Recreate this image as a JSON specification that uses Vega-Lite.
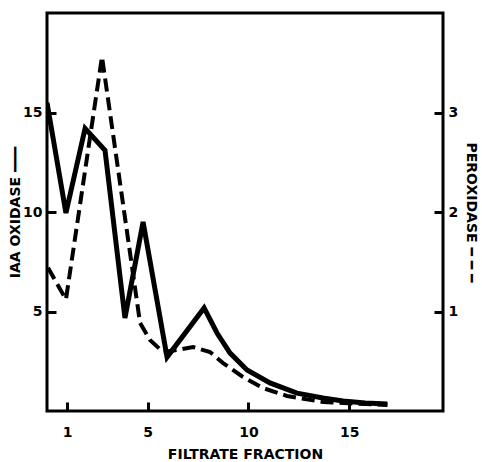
{
  "$schema": "https://vega.github.io/schema/vega-lite/v6.json",
  "width": 396,
  "height": 398,
  "autosize": "none",
  "padding": {"left": 47, "top": 13, "right": 39, "bottom": 51},
  "background": "white",
  "config": {
    "view": {"stroke": "black", "strokeWidth": 3},
    "font": "DejaVu Sans",
    "axis": {"domain": false, "grid": false, "tickColor": "black", "tickWidth": 3, "labelColor": "black", "titleColor": "black", "labelFont": "DejaVu Sans", "titleFont": "DejaVu Sans", "labelFontWeight": "bold", "titleFontWeight": "bold", "labelFontSize": 14, "titleFontSize": 14}
  },
  "datasets": {
    "iaa": [
      {"fraction": 0.0, "iaa": 15.5},
      {"fraction": 0.94, "iaa": 9.95},
      {"fraction": 1.89, "iaa": 14.2},
      {"fraction": 2.88, "iaa": 13.1},
      {"fraction": 3.87, "iaa": 4.67},
      {"fraction": 4.77, "iaa": 9.5},
      {"fraction": 5.96, "iaa": 2.71},
      {"fraction": 7.8, "iaa": 5.18},
      {"fraction": 8.44, "iaa": 3.92},
      {"fraction": 9.09, "iaa": 2.91},
      {"fraction": 9.93, "iaa": 2.06},
      {"fraction": 11.07, "iaa": 1.41},
      {"fraction": 12.41, "iaa": 0.9},
      {"fraction": 13.7, "iaa": 0.65},
      {"fraction": 14.7, "iaa": 0.5},
      {"fraction": 15.8, "iaa": 0.4},
      {"fraction": 16.9, "iaa": 0.35}
    ],
    "perox": [
      {"fraction": 0.05, "perox": 1.44},
      {"fraction": 0.94, "perox": 1.12},
      {"fraction": 2.73, "perox": 3.56},
      {"fraction": 4.62, "perox": 0.884},
      {"fraction": 5.11, "perox": 0.714},
      {"fraction": 5.76, "perox": 0.593},
      {"fraction": 6.45, "perox": 0.613},
      {"fraction": 7.25, "perox": 0.643},
      {"fraction": 8.09, "perox": 0.593},
      {"fraction": 8.74, "perox": 0.482},
      {"fraction": 9.73, "perox": 0.342},
      {"fraction": 10.72, "perox": 0.231},
      {"fraction": 11.92, "perox": 0.151},
      {"fraction": 13.7, "perox": 0.09},
      {"fraction": 16.9, "perox": 0.06}
    ]
  },
  "layer": [
    {
      "data": {"name": "iaa"},
      "mark": {"type": "line", "color": "black", "strokeWidth": 5, "strokeJoin": "miter", "clip": true},
      "encoding": {
        "x": {"field": "fraction", "type": "quantitative", "scale": {"domain": [0, 19.66], "nice": false, "zero": false},
              "axis": {"values": [1, 5, 10, 15], "title": "FILTRATE FRACTION", "tickSize": -9, "labelPadding": 23, "titlePadding": 8}},
        "y": {"field": "iaa", "type": "quantitative", "scale": {"domain": [0, 20], "nice": false},
              "axis": {"orient": "left", "values": [5, 10, 15], "title": "IAA OXIDASE ━━━", "tickSize": -9, "labelPadding": 14, "titlePadding": 0}}
      }
    },
    {
      "data": {"name": "perox"},
      "mark": {"type": "line", "color": "black", "strokeWidth": 4, "strokeDash": [13, 6], "clip": true},
      "encoding": {
        "x": {"field": "fraction", "type": "quantitative"},
        "y": {"field": "perox", "type": "quantitative", "scale": {"domain": [0, 4], "nice": false},
              "axis": {"orient": "right", "values": [1, 2, 3], "title": "PEROXIDASE ━ ━ ━", "titleAngle": 90, "tickSize": -9, "labelPadding": 14, "titlePadding": 6}}
      }
    }
  ],
  "resolve": {"scale": {"y": "independent"}}
}
